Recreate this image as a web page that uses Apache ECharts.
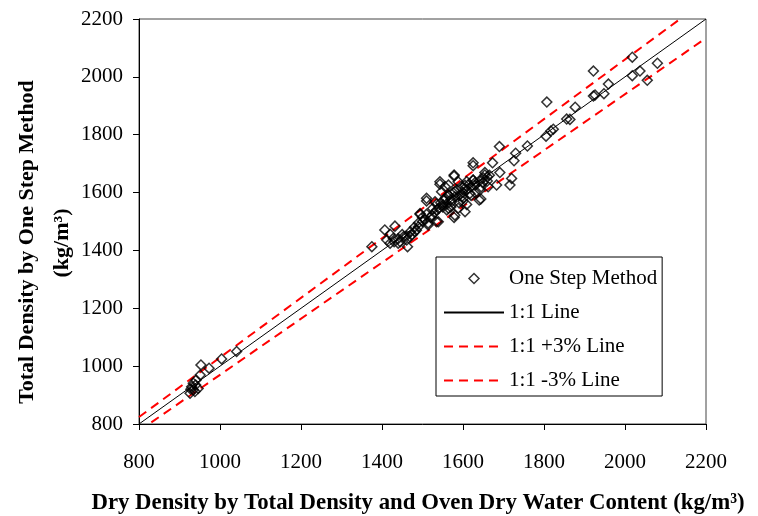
<!DOCTYPE html>
<html>
<head>
<meta charset="utf-8">
<script src="https://cdn.jsdelivr.net/npm/echarts@6/dist/echarts.min.js"></script>
<style>html,body{margin:0;padding:0;background:#fff}#c{width:758px;height:516px}</style>
</head>
<body>
<div id="c"></div>
<script>
// Dry density (x) vs total density by one step method (y), kg/m3
var dryDensity = [
  926,930,934,934,938,941,946,951,953,973,1004,1041,928,940,
  1375,1407,1432,1420,1412,1428,1440,1463,1453,1494,1514,1535,1510,1543,1578,1564,
  1625,1673,1690,1730,1726,1691,1720,1716,1683,1662,1654,1640,1578,1609,1601,1625,
  1578,1625,1654,1642,1644,1609,1580,1539,1514,1494,1510,1543,1556,1564,1588,1625,
  1630,1617,1597,1572,1551,1535,1523,1506,1481,1469,1461,1490,1556,1580,1605,1547,
  1531,1564,1588,1605,
  1450,1470,1480,1500,1520,1530,1540,1550,1560,1570,1580,1590,1600,1610,1620,1630,
  1640,1650,1660,1545,1555,1565,1575,1585,1595,1605,1615,1525,1535,1560,1570,1590,
  1600,1620,1630,1645,1650,1660,1665,1500,1510,1490,1485,1475,1460,1440,1445,1430,1420,
  1759,1805,1817,1823,1807,1856,1864,1877,1922,1926,1948,1959,1922,2018,2018,2037,2055,2080
];
var totalDensity = [
  906,929,918,941,912,952,923,969,1004,993,1025,1051,920,935,
  1413,1471,1484,1456,1436,1442,1425,1413,1447,1528,1494,1499,1571,1629,1661,1626,
  1703,1703,1759,1736,1710,1669,1649,1626,1626,1620,1669,1574,1514,1638,1580,1643,
  1657,1693,1661,1609,1578,1559,1522,1499,1488,1525,1580,1637,1620,1591,1637,1643,
  1626,1597,1586,1568,1557,1540,1522,1505,1465,1447,1436,1482,1580,1603,1615,1603,
  1568,1546,1546,1534,
  1455,1465,1480,1500,1515,1530,1545,1550,1560,1575,1585,1590,1600,1610,1620,1635,
  1640,1650,1655,1565,1575,1590,1600,1610,1620,1625,1630,1545,1560,1540,1550,1565,
  1570,1590,1600,1620,1635,1640,1660,1515,1525,1495,1470,1455,1450,1440,1430,1430,1425,
  1761,1795,1813,1819,1913,1854,1853,1895,1934,1937,1942,1975,2020,2068,2004,2020,1988,2047
];
var line11 = [[800, 800], [2200, 2200]];
var linePlus3 = [[800, 824], [2200, 2266]];
var lineMinus3 = [[800, 776], [2200, 2134]];
var axisTicks = [800, 1000, 1200, 1400, 1600, 1800, 2000, 2200];
var seriesNames = ['One Step Method', '1:1 Line', '1:1 +3% Line', '1:1 -3% Line'];

var points = dryDensity.map(function (x, i) { return [x, totalDensity[i]]; });
var FONT = 'Liberation Serif';
var noMarker = {color: 'rgba(0,0,0,0)', borderWidth: 0, opacity: 0};

var chart = echarts.init(document.getElementById('c'), null, {renderer: 'canvas'});
chart.setOption({
  animation: false,
  backgroundColor: '#fff',
  grid: {left: 139, right: 52, top: 19, bottom: 92, show: true, borderColor: '#444', borderWidth: 1},
  xAxis: {
    type: 'value', min: axisTicks[0], max: axisTicks[axisTicks.length - 1], interval: 200,
    axisLine: {show: true, onZero: false, lineStyle: {color: '#000', width: 1}},
    axisTick: {show: true, inside: false, length: 6, lineStyle: {color: '#000'}},
    splitLine: {show: false},
    axisLabel: {margin: 28, color: '#000', fontFamily: FONT, fontSize: 21,
      formatter: function (v) { return String(v); }}
  },
  yAxis: {
    type: 'value', min: axisTicks[0], max: axisTicks[axisTicks.length - 1], interval: 200,
    axisLine: {show: true, onZero: false, lineStyle: {color: '#000', width: 1}},
    axisTick: {show: true, inside: false, length: 6, lineStyle: {color: '#000'}},
    splitLine: {show: false},
    axisLabel: {margin: 16, color: '#000', fontFamily: FONT, fontSize: 21,
      formatter: function (v) { return String(v); }}
  },
  legend: {
    orient: 'vertical', left: 436, top: 257,
    backgroundColor: '#fff', borderColor: '#000', borderWidth: 1,
    padding: [11, 5, 5, 7],
    itemWidth: 60, itemHeight: 10, itemGap: 13,
    symbolKeepAspect: true,
    textStyle: {fontFamily: FONT, fontSize: 21, color: '#000'},
    data: [
      {name: seriesNames[0], icon: 'path://M5,0 L10,5 L5,10 L0,5 Z',
        itemStyle: {color: 'rgba(255,255,255,0)', borderColor: '#000', borderWidth: 1.5}},
      {name: seriesNames[1], itemStyle: noMarker},
      {name: seriesNames[2], itemStyle: noMarker},
      {name: seriesNames[3], itemStyle: noMarker}
    ]
  },
  series: [
    {
      name: seriesNames[0], type: 'scatter', data: points,
      symbol: 'rect', symbolRotate: 45, symbolSize: 7,
      itemStyle: {color: 'rgba(255,255,255,0)', borderColor: '#000', borderWidth: 1.5},
      emphasis: {disabled: true}, z: 5
    },
    {
      name: seriesNames[1], type: 'line', data: line11, symbol: 'none', clip: true,
      itemStyle: {color: '#000'},
      lineStyle: {color: '#000', width: 1}, emphasis: {disabled: true}
    },
    {
      name: seriesNames[2], type: 'line', data: linePlus3, symbol: 'none', clip: true,
      itemStyle: {color: '#ff0000'},
      lineStyle: {color: '#ff0000', width: 2, type: [9, 6]}, emphasis: {disabled: true}
    },
    {
      name: seriesNames[3], type: 'line', data: lineMinus3, symbol: 'none', clip: true,
      itemStyle: {color: '#ff0000'},
      lineStyle: {color: '#ff0000', width: 2, type: [9, 6]}, emphasis: {disabled: true}
    }
  ],
  graphic: [
    {
      type: 'text', x: 27, y: 242, rotation: Math.PI / 2,
      style: {text: 'Total Density by One Step Method', fontFamily: FONT, fontWeight: 'bold', fontSize: 22,
        fill: '#000', align: 'center', verticalAlign: 'middle'}
    },
    {
      type: 'text', x: 62, y: 243, rotation: Math.PI / 2,
      style: {text: '(kg/m³)', fontFamily: FONT, fontWeight: 'bold', fontSize: 22,
        fill: '#000', align: 'center', verticalAlign: 'middle'}
    },
    {
      type: 'text', x: 418, y: 503,
      style: {text: 'Dry Density by Total Density and Oven Dry Water Content (kg/m³)', fontFamily: FONT,
        fontWeight: 'bold', fontSize: 22.8, fill: '#000', align: 'center', verticalAlign: 'middle'}
    }
  ]
});
</script>
</body>
</html>
